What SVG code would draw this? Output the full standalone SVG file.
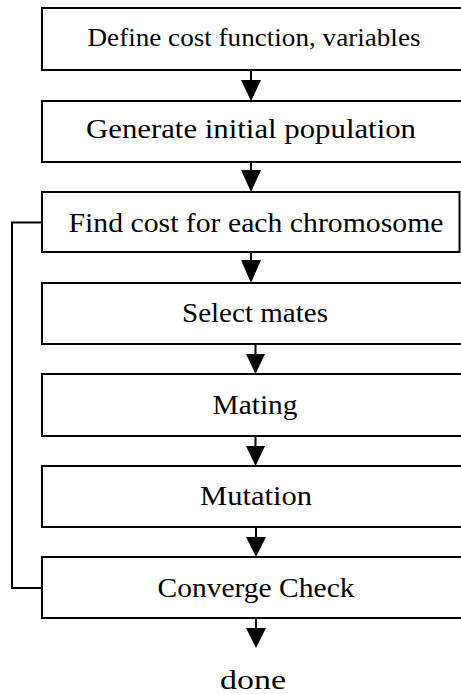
<svg xmlns="http://www.w3.org/2000/svg" width="461" height="694" viewBox="0 0 461 694">
<style>
.box{fill:#fff;stroke:#000;stroke-width:2}
.t{font-family:"Liberation Serif","Times New Roman",serif;font-size:27px;fill:#000;text-anchor:middle}
.ln{fill:none;stroke:#000;stroke-width:2}
.ah{fill:#000}
</style>
<rect width="461" height="694" fill="#fff"/>
<g id="n1"><rect class="box" x="42" y="8" width="430" height="62"/><text class="t" x="254" y="46" style="font-size:25px" textLength="333" lengthAdjust="spacingAndGlyphs">Define cost function, variables</text></g>
<g id="n2"><rect class="box" x="42" y="101" width="430" height="61"/><text class="t" x="251" y="138" textLength="330" lengthAdjust="spacingAndGlyphs">Generate initial population</text></g>
<g id="n3"><rect class="box" x="42" y="192" width="417.5" height="60"/><text class="t" x="256" y="232" textLength="375" lengthAdjust="spacingAndGlyphs">Find cost for each chromosome</text></g>
<g id="n4"><rect class="box" x="42" y="283" width="430" height="61"/><text class="t" x="255" y="322" textLength="146" lengthAdjust="spacingAndGlyphs">Select mates</text></g>
<g id="n5"><rect class="box" x="42" y="374" width="430" height="62"/><text class="t" x="255" y="414" textLength="85" lengthAdjust="spacingAndGlyphs">Mating</text></g>
<g id="n6"><rect class="box" x="42" y="466" width="430" height="61"/><text class="t" x="256" y="505" textLength="112" lengthAdjust="spacingAndGlyphs">Mutation</text></g>
<g id="n7"><rect class="box" x="42" y="557" width="430" height="61"/><text class="t" x="256" y="597" textLength="197" lengthAdjust="spacingAndGlyphs">Converge Check</text></g>
<g id="done"><text class="t" x="253" y="689" textLength="66" lengthAdjust="spacingAndGlyphs">done</text></g>
<g id="connectors">
<line class="ln" x1="251" y1="70" x2="251" y2="82"/><polygon class="ah" points="241,80 261,80 251,101"/>
<line class="ln" x1="251" y1="162" x2="251" y2="172"/><polygon class="ah" points="241,170 261,170 251,192"/>
<line class="ln" x1="251" y1="252" x2="251" y2="262"/><polygon class="ah" points="241,260 261,260 251,283"/>
<line class="ln" x1="255.5" y1="344" x2="255.5" y2="356"/><polygon class="ah" points="246,354 265,354 255.5,374"/>
<line class="ln" x1="255.5" y1="436" x2="255.5" y2="448"/><polygon class="ah" points="246,446 265,446 255.5,466"/>
<line class="ln" x1="256" y1="527" x2="256" y2="539"/><polygon class="ah" points="246,537 266,537 256,557"/>
<line class="ln" x1="256" y1="618" x2="256" y2="630"/><polygon class="ah" points="246,628 266,628 256,648"/>
<polyline class="ln" points="42,588 12,588 12,222.5 42,222.5"/>
</g>
</svg>
